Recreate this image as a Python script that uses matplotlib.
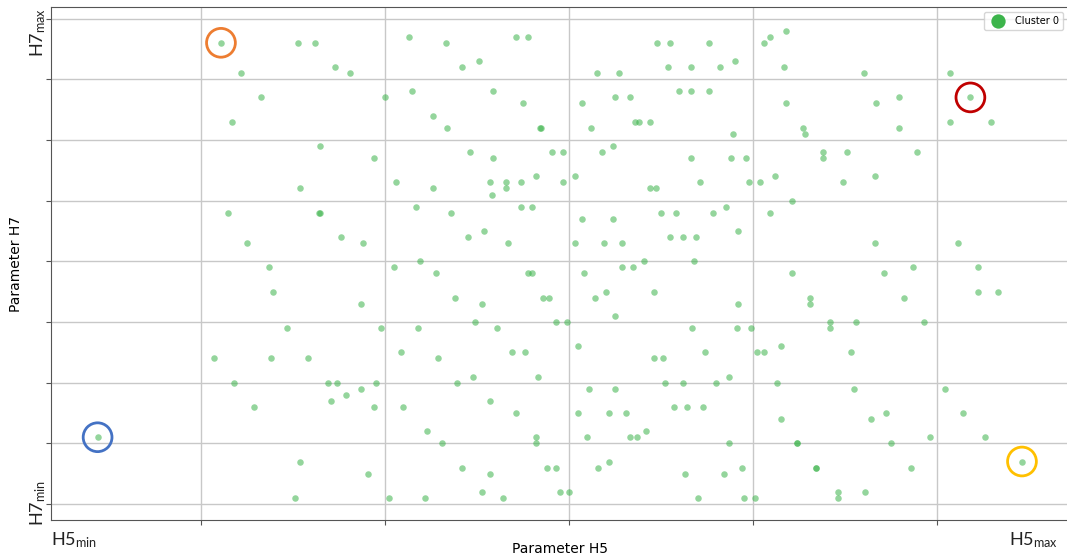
import matplotlib
matplotlib.use("Agg")
import matplotlib.pyplot as plt

# normalised H5 / H7 values of every sample (one cluster)
h5 = [
    1.11, 1.53, 1.62, 1.73, 1.81, 1.22, 1.33, 1.17, 1.65, 1.54,
    1.15, 1.64, 1.65, 1.25, 1.76, 1.37, 1.88, 1.39, 1.87, 1.47,
    1.07, 1.38, 1.58, 1.18, 1.69, 1.74, 1.87, 1.79, 1.71, 1.29,
    0.44, 1.54, 1.51,
    2.13, 2.33, 2.71, 2.78, 2.42, 2.51, 2.00, 2.15, 2.59, 2.75,
    2.26, 2.34, 2.84, 2.85, 1.94, 2.46, 2.59, 2.91, 2.97, 2.06,
    2.26, 2.57, 2.66, 2.66, 2.58, 2.74, 2.82, 2.97, 2.17, 2.36,
    2.74, 2.80, 2.45, 2.54, 2.67, 2.05, 2.19, 2.28, 2.78, 2.80,
    3.48, 3.55, 3.76, 3.54, 3.66, 3.82, 3.15, 3.27, 3.60, 3.66,
    3.76, 3.07, 3.25, 3.33, 3.36, 3.38, 3.44, 3.12, 3.18, 3.24,
    3.66, 3.03, 3.44, 3.47, 3.71, 3.07, 3.24, 3.50, 3.58, 3.78,
    3.03, 3.19, 3.29, 3.55, 3.62, 3.69, 3.08, 3.29, 3.35, 3.41, 3.68,
    2.38, 2.53, 2.86, 2.89, 1.98, 2.18, 2.49, 2.61, 2.93, 2.99,
    2.09, 2.29, 2.69, 2.76, 1.95, 2.39, 2.48, 2.83, 1.94, 2.10,
    2.57, 2.71, 2.23, 2.31, 2.82, 2.82, 1.91, 2.42, 2.57, 2.88,
    2.93, 2.02, 2.22, 2.53, 2.64, 2.95, 3.00,
    3.14, 3.20, 3.46, 3.25, 3.67, 3.05, 3.46, 3.51, 3.74,
    3.11, 3.25, 3.52, 3.62, 3.80, 3.05, 3.22, 3.31, 3.57, 3.64,
    3.73, 3.10, 3.33, 3.37, 3.42, 3.16, 3.22, 3.63, 3.70,
    4.06, 4.09, 4.18, 3.90, 4.17, 4.60, 5.07, 4.18, 4.67, 4.79,
    5.18, 5.07, 5.29, 4.27, 4.28, 4.79, 3.89, 4.38, 4.38, 4.51,
    4.89, 3.88, 3.96, 4.12, 4.66, 3.98, 4.04, 4.49, 4.21, 3.85,
    4.09, 3.92, 4.66, 5.11, 4.21, 4.71, 4.87, 5.22,
    3.92, 4.31, 4.31, 4.82, 5.22, 5.33, 3.91, 3.99, 4.42, 4.42,
    4.56, 4.93, 4.02, 4.06, 4.15, 4.53, 3.87, 4.13, 4.55, 5.04,
    4.15, 4.64, 4.72, 5.14, 3.87, 4.24, 4.24, 4.75, 4.96, 5.26,
    5.46, 3.84, 3.94, 4.34, 4.34, 4.86, 3.95, 4.01, 4.46, 4.46, 4.61,
]
h7 = [
    7.6, 7.6, 7.6, 7.2, 7.1, 7.1, 6.7, 6.3, 5.9, 5.2,
    4.8, 4.8, 4.8, 4.3, 4.4, 3.9, 4.3, 3.5, 3.3, 2.9,
    2.4, 2.4, 2.4, 2.0, 2.0, 2.0, 1.9, 1.8, 1.7, 1.6,
    1.1, 0.7, 0.1,
    7.7, 7.6, 7.7, 7.7, 7.2, 7.3, 6.7, 6.8, 6.8, 6.6,
    6.4, 6.2, 6.2, 6.2, 5.7, 5.8, 5.7, 5.8, 5.8, 5.3,
    5.2, 5.3, 5.3, 5.2, 5.1, 5.3, 5.4, 5.3, 4.9, 4.8,
    4.9, 4.9, 4.4, 4.5, 4.3, 3.9, 4.0, 3.8, 3.8, 3.8,
    7.6, 7.6, 7.6, 7.2, 7.2, 7.2, 7.1, 7.1, 6.8, 6.8,
    6.8, 6.6, 6.7, 6.7, 6.3, 6.3, 6.3, 6.2, 5.8, 5.9,
    5.7, 5.4, 5.2, 5.2, 5.3, 4.7, 4.7, 4.8, 4.8, 4.8,
    4.3, 4.3, 4.3, 4.4, 4.4, 4.4, 3.8, 3.9, 3.9, 4.0, 4.0,
    3.4, 3.3, 3.4, 3.4, 2.9, 2.9, 3.0, 2.9, 3.0, 3.0,
    2.5, 2.4, 2.5, 2.5, 2.0, 2.0, 2.1, 2.1, 1.6, 1.6,
    1.7, 1.5, 1.2, 1.0, 1.1, 1.0, 0.5, 0.6, 0.5, 0.6,
    0.6, 0.1, 0.1, 0.2, 0.1, 0.2, 0.2,
    3.4, 3.5, 3.5, 3.1, 2.9, 2.6, 2.4, 2.4, 2.5,
    1.9, 1.9, 2.0, 2.0, 2.0, 1.5, 1.5, 1.5, 1.6, 1.6,
    1.6, 1.1, 1.1, 1.1, 1.2, 0.6, 0.7, 0.5, 0.1,
    7.6, 7.7, 7.8, 7.3, 7.2, 7.1, 7.1, 6.6, 6.6, 6.7,
    6.7, 6.3, 6.3, 6.2, 6.1, 6.2, 6.1, 5.8, 5.7, 5.8,
    5.8, 5.7, 5.7, 5.4, 5.4, 5.3, 5.3, 5.3, 5.0, 4.9,
    4.8, 4.5, 4.3, 4.3, 3.8, 3.8, 3.9, 3.9,
    3.3, 3.4, 3.3, 3.4, 3.5, 3.5, 2.9, 2.9, 3.0, 2.9,
    3.0, 3.0, 2.5, 2.5, 2.6, 2.5, 2.1, 2.0, 1.9, 1.9,
    1.4, 1.4, 1.5, 1.5, 1.0, 1.0, 1.0, 1.0, 1.1, 1.1,
    0.7, 0.5, 0.6, 0.6, 0.6, 0.6, 0.1, 0.1, 0.2, 0.1, 0.2,
]
assert len(h5) == len(h7)

# extreme samples marked with rings
ring_h5 = [0.44, 1.11, 5.18, 5.46]
ring_h7 = [1.10, 7.60, 6.70, 0.70]
ring_colors = ["#4472C4", "#ED7D31", "#C00000", "#FFC000"]

fig = plt.figure(figsize=(10.67, 5.58), dpi=100)
ax = fig.add_axes([51 / 1067, 38 / 558, 1017 / 1067, 513 / 558])

ax.scatter(h5, h7, s=22, color="#3cb44b", alpha=0.55, linewidths=0,
           label="Cluster 0", zorder=3)
ax.scatter(ring_h5, ring_h7, s=430, facecolors="none",
           edgecolors=ring_colors, linewidths=2.0, zorder=4)

ax.set_xlim(0.187, 5.71)
ax.set_ylim(-0.264, 8.19)
ax.set_xticks([1, 2, 3, 4, 5])
ax.set_yticks(range(9))
ax.set_xticklabels([])
ax.set_yticklabels([])
ax.grid(True, color="#c8c8c8", linewidth=1.0)
ax.set_axisbelow(True)
for side in ["left", "bottom", "top", "right"]:
    ax.spines[side].set_color("#555555")
ax.tick_params(colors="#555555")

ax.set_xlabel("Parameter H5", fontsize=10, labelpad=9)
ax.set_ylabel("Parameter H7", fontsize=10, labelpad=13)

lab = dict(family=["Lato", "DejaVu Sans"], fontsize=13, color="#222222")
ax.text(0.0, -0.039, r"H5$\mathregular{_{min}}$", transform=ax.transAxes,
        ha="left", va="center", **lab)
ax.text(0.99, -0.039, r"H5$\mathregular{_{max}}$", transform=ax.transAxes,
        ha="right", va="center", **lab)
ax.text(-0.003, 0.034, r"H7$\mathregular{_{min}}$", transform=ax.transAxes,
        ha="right", va="center", rotation=90, **lab)
ax.text(-0.003, 0.950, r"H7$\mathregular{_{max}}$", transform=ax.transAxes,
        ha="right", va="center", rotation=90, **lab)

leg = ax.legend(loc="upper right", fontsize=7, markerscale=2.2)
for h in leg.legend_handles:
    h.set_alpha(1)

fig.savefig("out.png", dpi=100)
